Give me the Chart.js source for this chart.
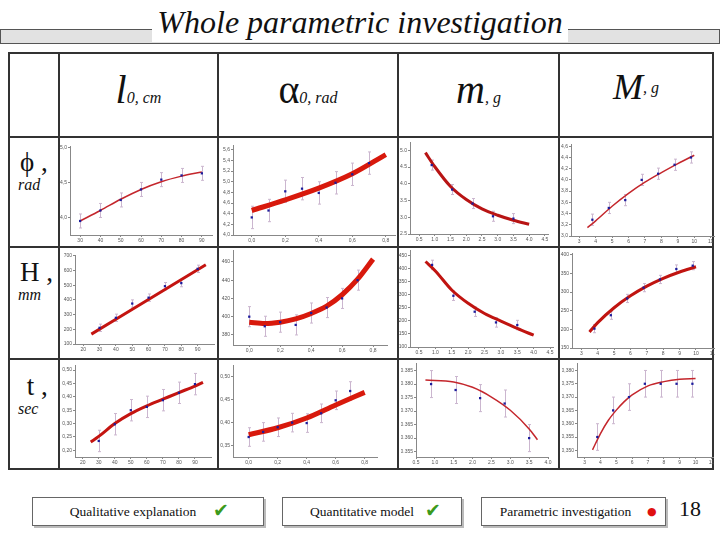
<!DOCTYPE html>
<html>
<head>
<meta charset="utf-8">
<script src="https://cdn.jsdelivr.net/npm/chart.js@4/dist/chart.umd.min.js"></script>
<style>
  body { margin: 0; width: 720px; height: 540px; position: relative; background: #fff; overflow: hidden; font-family: "Liberation Serif", serif; color: #111; }
  .band { position: absolute; left: 0; top: 29px; width: 718px; height: 13px; background: #e2e2e2; border: 1px solid #555; }
  .title { position: absolute; left: 152px; top: 2px; width: 416px; height: 40px; background: #fff; text-align: center; font-style: italic; font-size: 32px; line-height: 40px; }
  .hl { position: absolute; height: 2px; background: #333; }
  .vl { position: absolute; width: 2px; background: #333; }
  .head { position: absolute; top: 66px; height: 50px; text-align: center; white-space: nowrap; }
  .big { font-size: 40px; }
  .sm { font-size: 16px; font-style: italic; }
  .row { position: absolute; left: 18px; width: 40px; text-align: left; }
  .row .sym { font-size: 27px; line-height: 28px; padding-left: 2px; }
  .row .unit { font-size: 16px; font-style: italic; line-height: 18px; }
  canvas { position: absolute; }
  .box { position: absolute; top: 497px; height: 27px; border: 1px solid #666; box-shadow: 2px 2px 0 #bbb; font-size: 13.5px; line-height: 27px; text-align: center; }
  .ok { color: #3c9a1c; font-family: "DejaVu Sans", sans-serif; font-size: 19px; position: absolute; top: -1px; }
  .dot { color: #e01010; font-family: "DejaVu Sans", sans-serif; font-size: 11px; position: absolute; top: 0; }
</style>
</head>
<body>
<div class="band"></div>
<div class="title">Whole parametric investigation</div>

<div class="hl" style="left:8px; top:52px; width:706px"></div>
<div class="hl" style="left:8px; top:136px; width:706px"></div>
<div class="hl" style="left:8px; top:246px; width:706px"></div>
<div class="hl" style="left:8px; top:358px; width:706px"></div>
<div class="hl" style="left:8px; top:468px; width:706px"></div>
<div class="vl" style="left:8px; top:52px; height:418px"></div>
<div class="vl" style="left:58px; top:52px; height:418px"></div>
<div class="vl" style="left:217px; top:52px; height:418px"></div>
<div class="vl" style="left:397px; top:52px; height:418px"></div>
<div class="vl" style="left:558px; top:52px; height:418px"></div>
<div class="vl" style="left:712px; top:52px; height:418px"></div>

<div class="head" style="left:60px; width:157px"><span class="big" style="font-style:italic">l</span><span class="sm">0, cm</span></div>
<div class="head" style="left:219px; width:178px"><span class="big">α</span><span class="sm">0, rad</span></div>
<div class="head" style="left:399px; width:159px"><span class="big" style="font-style:italic">m</span><span class="sm">, g</span></div>
<div class="head" style="left:560px; width:152px"><span class="big" style="font-style:italic; font-size:36px">M</span><span class="sm" style="vertical-align:6px">, g</span></div>

<div class="row" style="top:148px"><div class="sym">ϕ ,</div><div class="unit">rad</div></div>
<div class="row" style="top:258px"><div class="sym">H ,</div><div class="unit">mm</div></div>
<div class="row" style="top:372px"><div class="sym">&nbsp;t ,</div><div class="unit">sec</div></div>

<div class="box" style="left:32px; width:230px"><span style="margin-right:30px">Qualitative explanation</span><span class="ok" style="left:180px">✔</span></div>
<div class="box" style="left:282px; width:178px"><span style="margin-right:20px">Quantitative model</span><span class="ok" style="left:142px">✔</span></div>
<div class="box" style="left:481px; width:183px"><span style="margin-right:16px">Parametric investigation</span><span class="dot" style="left:165px">●</span></div>
<div style="position:absolute; left:679px; top:496px; font-size:22px">18</div>

<script>
// measured points, shared x per column
const l0Points = [30, 40, 50, 60, 70, 80, 90];
const alphaPoints = [0, 0.1, 0.2, 0.3, 0.4, 0.5, 0.6, 0.7];
const mPoints = [0.9, 1.55, 2.2, 2.85, 3.5];
const bigMPoints = [3.8, 4.8, 5.8, 6.8, 7.8, 8.8, 9.8];

// phi, rad
const phiL0 = [3.95, 4.10, 4.25, 4.40, 4.54, 4.60, 4.63];
const phiL0Err = [0.1, 0.1, 0.1, 0.1, 0.1, 0.1, 0.1];
const phiL0FitX = [30, 40, 50, 60, 70, 80, 90];
const phiL0FitY = [3.95, 4.10, 4.26, 4.40, 4.51, 4.59, 4.65];

const phiAlpha = [4.33, 4.46, 4.82, 4.87, 4.79, 4.98, 5.14, 5.35];
const phiAlphaErr = [0.21, 0.21, 0.21, 0.21, 0.21, 0.21, 0.21, 0.21];
const phiAlphaFitX = [0, 0.2, 0.4, 0.6, 0.8];
const phiAlphaFitY = [4.46, 4.66, 4.88, 5.15, 5.51];

const phiM = [4.56, 3.83, 3.41, 3.03, 2.96];
const phiMErr = [0.15, 0.15, 0.15, 0.15, 0.15];
const phiMFitX = [0.7, 1.0, 1.5, 2.0, 2.5, 3.0, 3.5, 4.0];
const phiMFitY = [4.93, 4.51, 3.92, 3.53, 3.25, 3.06, 2.91, 2.79];

const phiBigM = [3.29, 3.50, 3.64, 4.00, 4.11, 4.27, 4.40];
const phiBigMErr = [0.1, 0.1, 0.1, 0.1, 0.1, 0.1, 0.1];
const phiBigMFitX = [3.5, 4, 5, 6, 7, 8, 9, 10];
const phiBigMFitY = [3.15, 3.27, 3.53, 3.76, 3.96, 4.13, 4.29, 4.44];

// H, mm
const hL0 = [210, 278, 375, 415, 493, 514, 611];
const hL0Err = [25, 25, 25, 25, 25, 25, 25];
const hL0FitX = [25, 95];
const hL0FitY = [167, 639];

const hAlpha = [400, 389.5, 394, 391, 404, 410, 420, 440];
const hAlphaErr = [11, 11, 11, 11, 11, 11, 11, 11];
const hAlphaFitX = [0, 0.1, 0.2, 0.3, 0.4, 0.5, 0.6, 0.7, 0.8];
const hAlphaFitY = [394, 392.5, 394, 397.5, 403.5, 411.5, 424, 441, 463];

const hM = [414, 296, 235, 194, 184];
const hMErr = [18, 18, 18, 18, 18];
const hMFitX = [0.7, 1.0, 1.5, 2.0, 2.5, 3.0, 3.5, 4.0];
const hMFitY = [427, 391, 318, 267, 228, 199, 171, 145];

const hBigM = [202, 238, 283, 312, 334, 362, 371];
const hBigMErr = [11, 11, 11, 11, 11, 11, 11];
const hBigMFitX = [3.5, 4, 5, 6, 7, 8, 9, 10];
const hBigMFitY = [193, 218, 258, 290, 316, 337, 354, 368];

// t, sec
const tL0 = [0.235, 0.2975, 0.35, 0.3625, 0.3875, 0.415, 0.4475];
const tL0Err = [0.04, 0.04, 0.04, 0.04, 0.04, 0.04, 0.04];
const tL0FitX = [25, 30, 40, 50, 60, 70, 80, 90, 95];
const tL0FitY = [0.231, 0.252, 0.300, 0.337, 0.366, 0.391, 0.416, 0.440, 0.454];

const tAlpha = [0.369, 0.380, 0.390, 0.400, 0.399, 0.420, 0.448, 0.468];
const tAlphaErr = [0.02, 0.02, 0.02, 0.02, 0.02, 0.02, 0.02, 0.02];
const tAlphaFitX = [0, 0.2, 0.4, 0.6, 0.8];
const tAlphaFitY = [0.374, 0.389, 0.410, 0.438, 0.465];

const tM = [0.380, 0.3778, 0.3748, 0.3728, 0.360];
const tMErr = [0.005, 0.005, 0.005, 0.005, 0.005];
const tMFitX = [0.75, 1.5, 2.0, 2.5, 3.0, 3.5, 3.72];
const tMFitY = [0.3815, 0.3808, 0.3788, 0.3752, 0.3703, 0.3634, 0.3594];

const tBigM = [0.355, 0.365, 0.370, 0.375, 0.375, 0.375, 0.375];
const tBigMErr = [0.005, 0.005, 0.005, 0.005, 0.005, 0.005, 0.005];
const tBigMFitX = [3.5, 4, 4.5, 5, 5.5, 6, 7, 8, 9, 10];
const tBigMFitY = [0.3502, 0.3563, 0.3613, 0.3651, 0.3683, 0.3708, 0.3742, 0.3758, 0.3767, 0.3770];

// tick labels
const l0Ticks = [20, 30, 40, 50, 60, 70, 80, 90];
const alphaTicks = [0, 0.2, 0.4, 0.6, 0.8];
const mTicks = [0.5, 1.0, 1.5, 2.0, 2.5, 3.0, 3.5, 4.0, 4.5];
const bigMTicks = [3, 4, 5, 6, 7, 8, 9, 10, 11];
const phiL0Ticks = [4.0, 4.5, 5.0];
const phiAlphaTicks = [4.0, 4.2, 4.4, 4.6, 4.8, 5.0, 5.2, 5.4, 5.6];
const phiMTicks = [2.5, 3.0, 3.5, 4.0, 4.5, 5.0];
const phiBigMTicks = [3.0, 3.2, 3.4, 3.6, 3.8, 4.0, 4.2, 4.4, 4.6];
const hL0Ticks = [100, 200, 300, 400, 500, 600, 700];
const hAlphaTicks = [380, 400, 420, 440, 460];
const hMTicks = [100, 150, 200, 250, 300, 350, 400, 450];
const hBigMTicks = [150, 200, 250, 300, 350, 400];
const tL0Ticks = [0.20, 0.25, 0.30, 0.35, 0.40, 0.45, 0.50];
const tAlphaTicks = [0.35, 0.40, 0.45, 0.50];
const tMTicks = [0.355, 0.360, 0.365, 0.370, 0.375, 0.380, 0.385];
const tBigMTicks = [0.350, 0.355, 0.360, 0.365, 0.370, 0.375, 0.380];

const THICK = "#d8190c";
const THIN = "#c4262c";

// error bars drawn from the scales
const errorBars = {
  id: "errorBars",
  beforeDatasetsDraw(chart) {
    const ctx = chart.ctx;
    const xs = chart.scales.x;
    const ys = chart.scales.y;
    chart.data.datasets.forEach(ds => {
      if (!ds.errors) return;
      ctx.save();
      ctx.strokeStyle = "#cbb6cf";
      ctx.lineWidth = 1;
      ds.data.forEach((p, i) => {
        const x = Math.round(xs.getPixelForValue(p.x)) + 0.5;
        const y1 = ys.getPixelForValue(p.y - ds.errors[i]);
        const y2 = ys.getPixelForValue(p.y + ds.errors[i]);
        ctx.beginPath();
        ctx.moveTo(x, y1); ctx.lineTo(x, y2);
        ctx.moveTo(x - 1.5, y1); ctx.lineTo(x + 1.5, y1);
        ctx.moveTo(x - 1.5, y2); ctx.lineTo(x + 1.5, y2);
        ctx.stroke();
      });
      ctx.restore();
    });
  }
};

function pairs(xs, ys) {
  return xs.map((x, i) => ({ x: x, y: ys[i] }));
}

function axis(min, max, ticks, dec, sep, isX) {
  return {
    type: "linear",
    min: min,
    max: max,
    afterBuildTicks: a => { a.ticks = ticks.map(v => ({ value: v })); },
    afterFit: s => { if (isX) s.height = 10; else s.width = 15; },
    ticks: {
      autoSkip: false,
      maxRotation: 0,
      padding: 1,
      color: "#555",
      font: { size: 5, family: "Liberation Sans" },
      callback: v => v.toFixed(dec).replace(".", sep)
    },
    grid: { drawOnChartArea: false, tickLength: 2, color: "#888" },
    border: { color: "#888" }
  };
}

function makeChart(c) {
  const [l, t, r, b] = c.box;
  const canvas = document.createElement("canvas");
  const left = l - 15, top = t - 4;
  canvas.width = r - left + 6;
  canvas.height = b - top + 10;
  canvas.style.left = left + "px";
  canvas.style.top = top + "px";
  document.body.appendChild(canvas);

  new Chart(canvas, {
    type: "scatter",
    data: {
      datasets: [
        {
          data: pairs(c.px, c.py),
          errors: c.err,
          pointStyle: "rect",
          pointRadius: 1.6,
          backgroundColor: "#1c1c9c",
          borderColor: "#1c1c9c",
          borderWidth: 0
        },
        {
          data: pairs(c.fx, c.fy),
          showLine: true,
          pointRadius: 0,
          borderColor: c.color,
          borderWidth: c.width,
          cubicInterpolationMode: "monotone",
          fill: false
        }
      ]
    },
    options: {
      responsive: false,
      animation: false,
      devicePixelRatio: 1,
      layout: { padding: { top: 4, right: 6, left: 0, bottom: 0 } },
      plugins: { legend: { display: false }, tooltip: { enabled: false } },
      scales: {
        x: axis(c.x[0], c.x[1], c.xt, c.xd, c.sep, true),
        y: axis(c.y[0], c.y[1], c.yt, c.yd, c.sep, false)
      }
    },
    plugins: [errorBars]
  });
}

const charts = [
  { box: [70, 146, 212, 235], x: [25, 95], y: [3.75, 5.02], xt: l0Ticks.slice(1), yt: phiL0Ticks, xd: 0, yd: 1, sep: ",",
    px: l0Points, py: phiL0, err: phiL0Err, fx: phiL0FitX, fy: phiL0FitY, color: THIN, width: 1.5 },
  { box: [233, 145, 395, 235], x: [-0.112, 0.855], y: [4.0, 5.69], xt: alphaTicks, yt: phiAlphaTicks, xd: 1, yd: 1, sep: ",",
    px: alphaPoints, py: phiAlpha, err: phiAlphaErr, fx: phiAlphaFitX, fy: phiAlphaFitY, color: THICK, width: 5 },
  { box: [410, 142, 548, 234], x: [0.21, 4.6], y: [2.5, 5.25], xt: mTicks, yt: phiMTicks, xd: 1, yd: 1, sep: ".",
    px: mPoints, py: phiM, err: phiMErr, fx: phiMFitX, fy: phiMFitY, color: "#b81414", width: 3 },
  { box: [571, 144, 714, 236], x: [2.5, 11.2], y: [3.0, 4.64], xt: bigMTicks, yt: phiBigMTicks, xd: 0, yd: 1, sep: ",",
    px: bigMPoints, py: phiBigM, err: phiBigMErr, fx: phiBigMFitX, fy: phiBigMFitY, color: THIN, width: 1.5 },

  { box: [75, 255, 214, 344], x: [15, 100], y: [100, 705], xt: l0Ticks, yt: hL0Ticks, xd: 0, yd: 0, sep: ",",
    px: l0Points, py: hL0, err: hL0Err, fx: hL0FitX, fy: hL0FitY, color: "#c41410", width: 3 },
  { box: [233, 250, 387, 345], x: [-0.105, 0.89], y: [369, 473], xt: alphaTicks, yt: hAlphaTicks, xd: 1, yd: 0, sep: ",",
    px: alphaPoints, py: hAlpha, err: hAlphaErr, fx: hAlphaFitX, fy: hAlphaFitY, color: THICK, width: 5 },
  { box: [410, 250, 553, 347], x: [0.226, 4.59], y: [100, 471], xt: mTicks, yt: hMTicks, xd: 1, yd: 0, sep: ".",
    px: mPoints, py: hM, err: hMErr, fx: hMFitX, fy: hMFitY, color: "#c01410", width: 3 },
  { box: [572, 253, 714, 348], x: [2.43, 11.1], y: [150, 405], xt: bigMTicks, yt: hBigMTicks, xd: 0, yd: 0, sep: ",",
    px: bigMPoints, py: hBigM, err: hBigMErr, fx: hBigMFitX, fy: hBigMFitY, color: "#c01410", width: 3 },

  { box: [75, 365, 211, 457], x: [15.2, 100], y: [0.175, 0.519], xt: l0Ticks, yt: tL0Ticks, xd: 0, yd: 2, sep: ",",
    px: l0Points, py: tL0, err: tL0Err, fx: tL0FitX, fy: tL0FitY, color: "#c41410", width: 3 },
  { box: [233, 365, 377, 457], x: [-0.108, 0.885], y: [0.326, 0.524], xt: alphaTicks, yt: tAlphaTicks, xd: 1, yd: 2, sep: ",",
    px: alphaPoints, py: tAlpha, err: tAlphaErr, fx: tAlphaFitX, fy: tAlphaFitY, color: THICK, width: 5 },
  { box: [416, 363, 548, 457], x: [0.5, 4.0], y: [0.353, 0.3878], xt: mTicks.slice(0, 8), yt: tMTicks, xd: 1, yd: 3, sep: ".",
    px: mPoints, py: tM, err: tMErr, fx: tMFitX, fy: tMFitY, color: THIN, width: 1.5 },
  { box: [577, 363, 713, 457], x: [2.52, 11.1], y: [0.3475, 0.3828], xt: bigMTicks, yt: tBigMTicks, xd: 0, yd: 3, sep: ",",
    px: bigMPoints, py: tBigM, err: tBigMErr, fx: tBigMFitX, fy: tBigMFitY, color: THIN, width: 1.5 }
];

charts.forEach(makeChart);
</script>
</body>
</html>
